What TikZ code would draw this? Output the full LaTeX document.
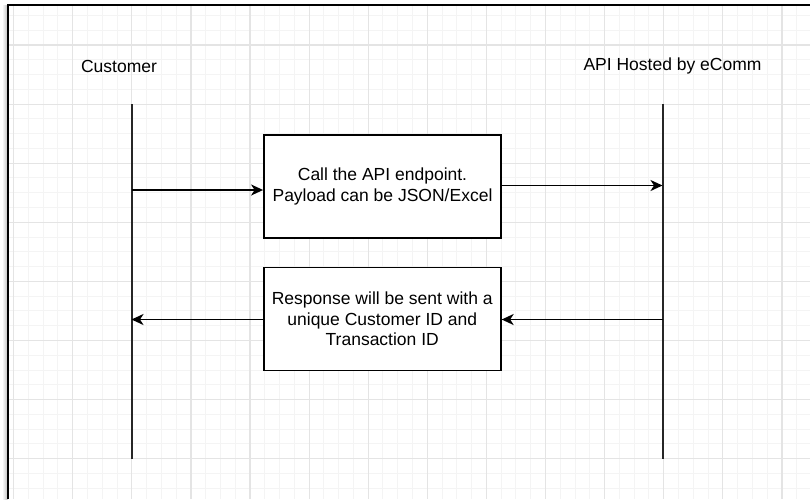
\documentclass[tikz,border=0pt]{standalone}
\usepackage{fontspec}
\setmainfont{Liberation Sans}
\usetikzlibrary{arrows.meta}
\definecolor{gridminor}{HTML}{F4F4F4}
\definecolor{gridmajor}{HTML}{E4E4E4}
\tikzset{
  lbl/.style={font=\fontsize{17.5}{20.4}\selectfont, text=black, inner sep=0pt},
  msgbox/.style={draw=black, line width=1.8pt, fill=white, minimum width=237pt, minimum height=103pt,
    align=center, font=\fontsize{17.5}{20.4}\selectfont, inner sep=0pt},
  lifeline/.style={draw=black!85, line width=2pt},
  msg/.style={draw=black, line width=1.8pt, -{Stealth[length=12pt,width=11pt,inset=3.5pt]}},
}
\begin{document}
\begin{tikzpicture}[x=1pt,y=-1pt]
\useasboundingbox (0,0) rectangle (810,499);
\fill[white] (0,0) rectangle (810,499);
% soft shadow left of the frame
\shade[left color=white, right color=black!25] (2,5) rectangle (7.5,499);
% grid
\begin{scope}
\clip (8,5) rectangle (810,499);
\foreach \i in {-1,...,55} {
  \draw[gridminor, line width=1pt] ({13.6+14.775*\i},0) -- ({13.6+14.775*\i},499);
}
\foreach \i in {-2,...,35} {
  \draw[gridminor, line width=1pt] (0,{45+14.775*\i}) -- (810,{45+14.775*\i});
}
\foreach \i in {0,...,13} {
  \draw[gridmajor, line width=1.2pt] ({13.6+59.1*\i},0) -- ({13.6+59.1*\i},499);
}
\foreach \i in {-1,...,8} {
  \draw[gridmajor, line width=1.2pt] (0,{45+59.1*\i}) -- (810,{45+59.1*\i});
}
\end{scope}
% frame (top and left edges)
\draw[black, line width=2.4pt] (8,499) -- (8,5) -- (810,5);

% titles
\node[lbl] (cust) at (119,66) {Customer};
\node[lbl] (api) at (672.5,66) {API Hosted by eComm};

% lifelines
\coordinate (c1) at (131.5,104);
\coordinate (c2) at (131.5,459);
\coordinate (s1) at (662.5,104);
\coordinate (s2) at (662.5,459);
\draw[lifeline] (c1) -- (c2);
\draw[lifeline] (s1) -- (s2);

% boxes
\node[msgbox] (box1) at (382.5,186.5) {Call the API endpoint.\\Payload can be JSON/Excel};
\node[msgbox] (box2) at (382.25,319) {Response will be sent with a\\unique Customer ID and\\Transaction ID};

% messages
\coordinate (m1a) at (131.5,190);
\coordinate (m1b) at (662.5,185.5);
\coordinate (m2a) at (662.5,319.5);
\coordinate (m2b) at (131.5,319.5);
\draw[msg] (m1a) -- (m1a -| box1.west);
\draw[msg] (m1b -| box1.east) -- (m1b);
\draw[msg] (m2a) -- (m2a -| box2.east);
\draw[msg] (m2b -| box2.west) -- (m2b);
\end{tikzpicture}
\end{document}
